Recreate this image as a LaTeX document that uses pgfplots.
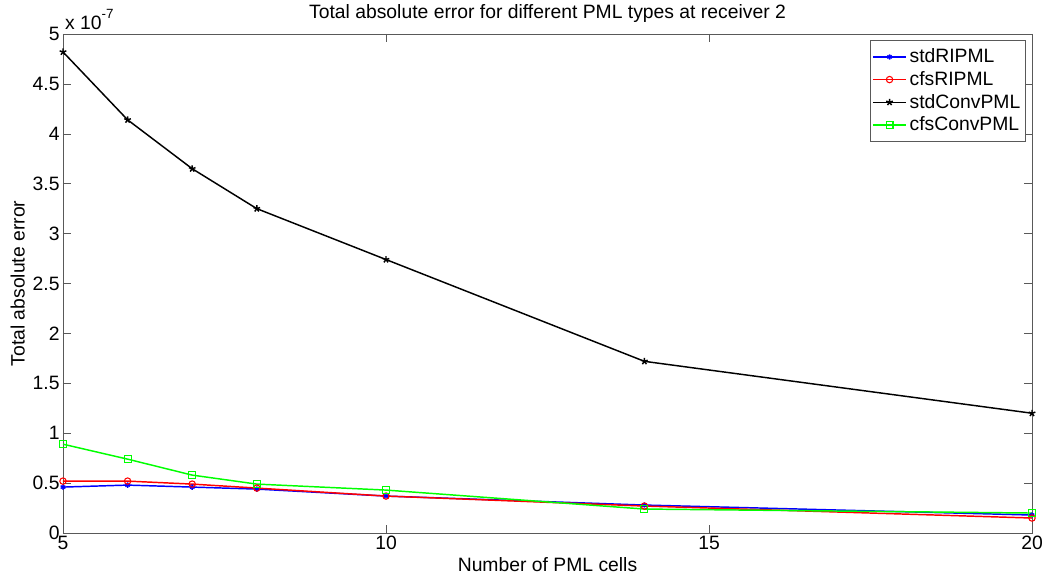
\documentclass[border=0pt]{standalone}
\usepackage{pgfplots}
\pgfplotsset{compat=1.18}
\usepackage{fontspec}
\setmainfont{Liberation Sans}
\newcommand{\ff}{\fontsize{14.5pt}{17pt}\selectfont}
\begin{document}
\begin{tikzpicture}[x=1pt,y=1pt]
\begin{axis}[
  scale only axis,
  width=726.75pt, height=374.25pt,
  xmin=5, xmax=20, ymin=0, ymax=5,
  xtick={5,10,15,20},
  ytick={0,0.5,1,1.5,2,2.5,3,3.5,4,4.5,5},
  yticklabels={0,0.5,1,1.5,2,2.5,3,3.5,4,4.5,5},
  /pgf/number format/assume math mode=true,
  tick align=inside,
  tick pos=both,
  major tick length=6pt,
  axis line style={black!65},
  every tick/.style={black!65},
  tick label style={font=\ff},
  xticklabel style={yshift=1pt},
  yticklabel style={xshift=1pt},
  label style={font=\ff},
  title style={font=\ff, yshift=-1pt},
  title={Total absolute error for different PML types at receiver 2},
  xlabel={Number of PML cells},
  ylabel={Total absolute error},
  xlabel style={yshift=1pt},
  ylabel style={yshift=-1pt},
  legend style={at={(rel axis cs:0.993,0.988)}, anchor=north east,
    font=\ff, draw=black!65, inner xsep=1.5pt, inner ysep=4.5pt,
    row sep=1pt},
  legend image code/.code={\draw[mark repeat=2,mark phase=2,#1] plot coordinates {(0pt,0pt) (12.5pt,0pt) (25pt,0pt)};},
  legend cell align=left,
  clip=false,
]
\addplot[blue, line width=1.1pt, mark=asterisk, mark size=2pt] coordinates {
(5,0.46) (6,0.48) (7,0.46) (8,0.44) (10,0.37) (14,0.28) (20,0.18)};
\addlegendentry{stdRIPML}
\addplot[red, line width=1.1pt, mark=o, mark size=2.4pt, mark options={line width=0.8pt}] coordinates {
(5,0.52) (6,0.52) (7,0.49) (8,0.45) (10,0.37) (14,0.27) (20,0.15)};
\addlegendentry{cfsRIPML}
\addplot[black, line width=1.1pt, mark=star, mark size=2.6pt] coordinates {
(5,4.82) (6,4.14) (7,3.65) (8,3.25) (10,2.74) (14,1.72) (20,1.20)};
\addlegendentry{stdConvPML}
\addplot[green, line width=1.1pt, mark=square, mark size=2.6pt, mark options={line width=0.8pt}] coordinates {
(5,0.89) (6,0.74) (7,0.58) (8,0.49) (10,0.43) (14,0.24) (20,0.20)};
\addlegendentry{cfsConvPML}
\node[anchor=south west, font=\ff, inner sep=0pt] at (rel axis cs:0.002,1.008) {x 10\raisebox{1.1ex}{\fontsize{10pt}{12pt}\selectfont -7}};
\end{axis}
\pgfresetboundingbox
\path[use as bounding box] (-47.25pt,-35.25pt) rectangle (735.75pt,399.75pt);
\end{tikzpicture}
\end{document}
